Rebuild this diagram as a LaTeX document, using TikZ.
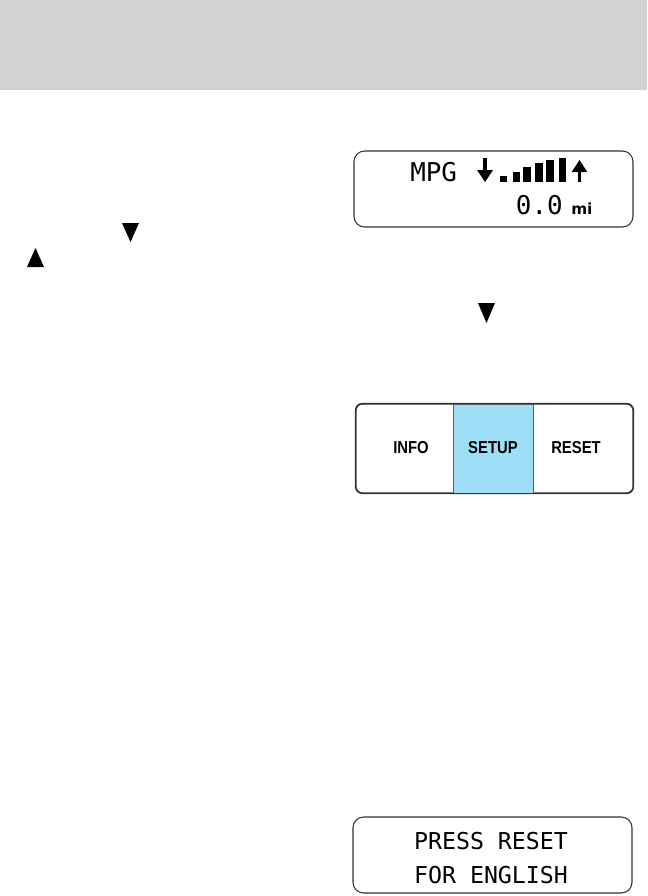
\documentclass[tikz,border=0pt]{standalone}
\usepackage{fontspec}
\usepackage{xcolor}
\usepackage{tikz}
\usetikzlibrary{positioning}
\newfontfamily\lcdfont{DejaVu Sans Mono}
\newfontfamily\unitfont{DejaVu Sans}
\newfontfamily\keyfont{Liberation Sans}[FakeStretch=0.86]
\definecolor{bandgray}{HTML}{D3D3D3}
\definecolor{setupblue}{HTML}{9EDFF7}
\definecolor{frame}{HTML}{333333}

\begin{document}
\begin{tikzpicture}[
  x=0.02646cm, y=-0.02646cm,
  lcdbox/.style={draw=frame, line width=0.8pt, rounded corners=8pt, minimum width=7.382cm,
                 minimum height=2.011cm, inner sep=0pt},
  keystrip/.style={draw=frame, line width=0.8pt, rounded corners=5pt, minimum width=7.33cm,
                   minimum height=2.355cm, inner sep=0pt},
  lcdtxt/.style={inner sep=0pt, font=\lcdfont\fontsize{19.5}{20}\selectfont},
  msgtxt/.style={inner sep=0pt, font=\lcdfont\fontsize{17.5}{18}\selectfont},
  keytxt/.style={inner sep=0pt, font=\keyfont\bfseries\fontsize{13}{14}\selectfont},
  tri/.style={fill=black}
]
\useasboundingbox (0,0) rectangle (647,896);
\fill[bandgray] (0,0) rectangle (647,90);

% triangles in the text column
\fill[tri] (122,223) -- (139,223) -- (130.5,242) -- cycle;
\fill[tri] (27,267) -- (44,267) -- (35.5,248) -- cycle;
\fill[tri] (478,303) -- (495,303) -- (486.5,323) -- cycle;

% MPG display
\node[lcdbox] (mpgdisp) at (493.5,189) {};
\node[lcdtxt, anchor=base west] (mpg) at (410,181.7) {MPG};
\draw[line width=2.8pt] (485,158) -- (485,171);
\fill (477,170) -- (493,170) -- (485,182) -- cycle;
\foreach \bx/\btop in {503.3/175.7, 516.2/172.3, 527/166.7, 538.9/163.3, 550/160, 562.5/157.7}
  \fill (\bx-3.6,\btop) rectangle (\bx+3.6,181.7);
\draw[line width=2.8pt] (579.5,171) -- (579.5,182);
\fill (571.7,172) -- (587.3,172) -- (579.5,160) -- cycle;
\node[lcdtxt, anchor=base east] (dist) at (563,214) {0.0};
\node[inner sep=0pt, anchor=base west, font=\unitfont\bfseries\fontsize{11.5}{12}\selectfont]
  (unit) at (571,214) {mi};

% key strip
\node[keystrip] (strip) at (494.5,448.5) {};
\node[draw=frame!80, line width=0.6pt, fill=setupblue, minimum width=2.117cm,
      minimum height=2.355cm, inner sep=0pt] (setupkey) at (493,448.5) {};
\draw[frame, line width=0.8pt, rounded corners=5pt] (strip.north west) rectangle (strip.south east);
\node[keytxt] (info) at (411,448) {INFO};
\node[keytxt] (setup) at (493,448) {SETUP};
\node[keytxt] (reset) at (576,448) {RESET};

% language display
\node[lcdbox] (langdisp) at (492.5,855) {};
\node[msgtxt] (press) at (491,841) {PRESS RESET};
\node[msgtxt] (english) at (491,875) {FOR ENGLISH};
\end{tikzpicture}
\end{document}
